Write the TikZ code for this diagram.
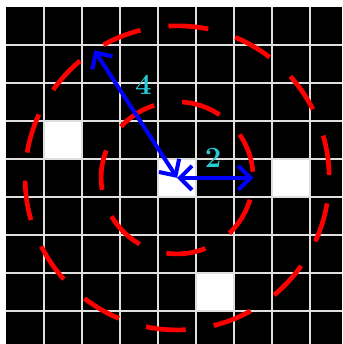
\documentclass[tikz,border=0pt]{standalone}
\usetikzlibrary{arrows.meta}
\definecolor{labelcyan}{RGB}{40,200,210}
\begin{document}
\begin{tikzpicture}[>={Straight Barb[length=9pt,width=18pt]},
    ring/.style={red, line width=3.5pt, dash pattern=on 1.05cm off 0.745cm},
    radius line/.style={<->, blue, line width=3pt},
    lbl/.style={text=labelcyan, font=\fontsize{22}{22}\selectfont\bfseries, inner sep=0pt}]
      \def\Rin{2}
      \def\Rout{4}
      \def\ang{123}
      \useasboundingbox (-4.66,-4.37) rectangle (4.34,4.68);
      \coordinate (O) at (0,0);
      \coordinate (A) at (\ang:\Rout);
      \coordinate (B) at (\Rin,0);

      % BOARD
      \fill[black] (-4.5,-4.37) rectangle (4.34,4.5);
      \foreach \c in {(0,0),(-3,1),(3,0),(1,-3)}
        \fill[white] \c ++(-0.5,-0.5) rectangle ++(1,1);
      \foreach \k in {-3.5,-2.5,-1.5,-0.5,0.5,1.5,2.5,3.5} {
        \draw[gray!25, line width=1.4pt] (\k,-4.37) -- (\k,4.5);
        \draw[gray!25, line width=1.4pt] (-4.5,\k) -- (4.34,\k);
      }

      % RINGS
      \draw[ring] (O) ++(4.7:\Rin) arc[start angle=4.7, delta angle=360, radius=\Rin];
      \draw[ring] (O) ++(1.1:\Rout) arc[start angle=1.1, delta angle=360, radius=\Rout];

      % RADII
      \draw[radius line] (O) -- (A);
      \draw[radius line] (O) -- (B);
      \node[lbl] (l4) at (-0.89,2.45) {4};
      \node[lbl] (l2) at (0.95,0.53) {2};
\end{tikzpicture}
\end{document}
